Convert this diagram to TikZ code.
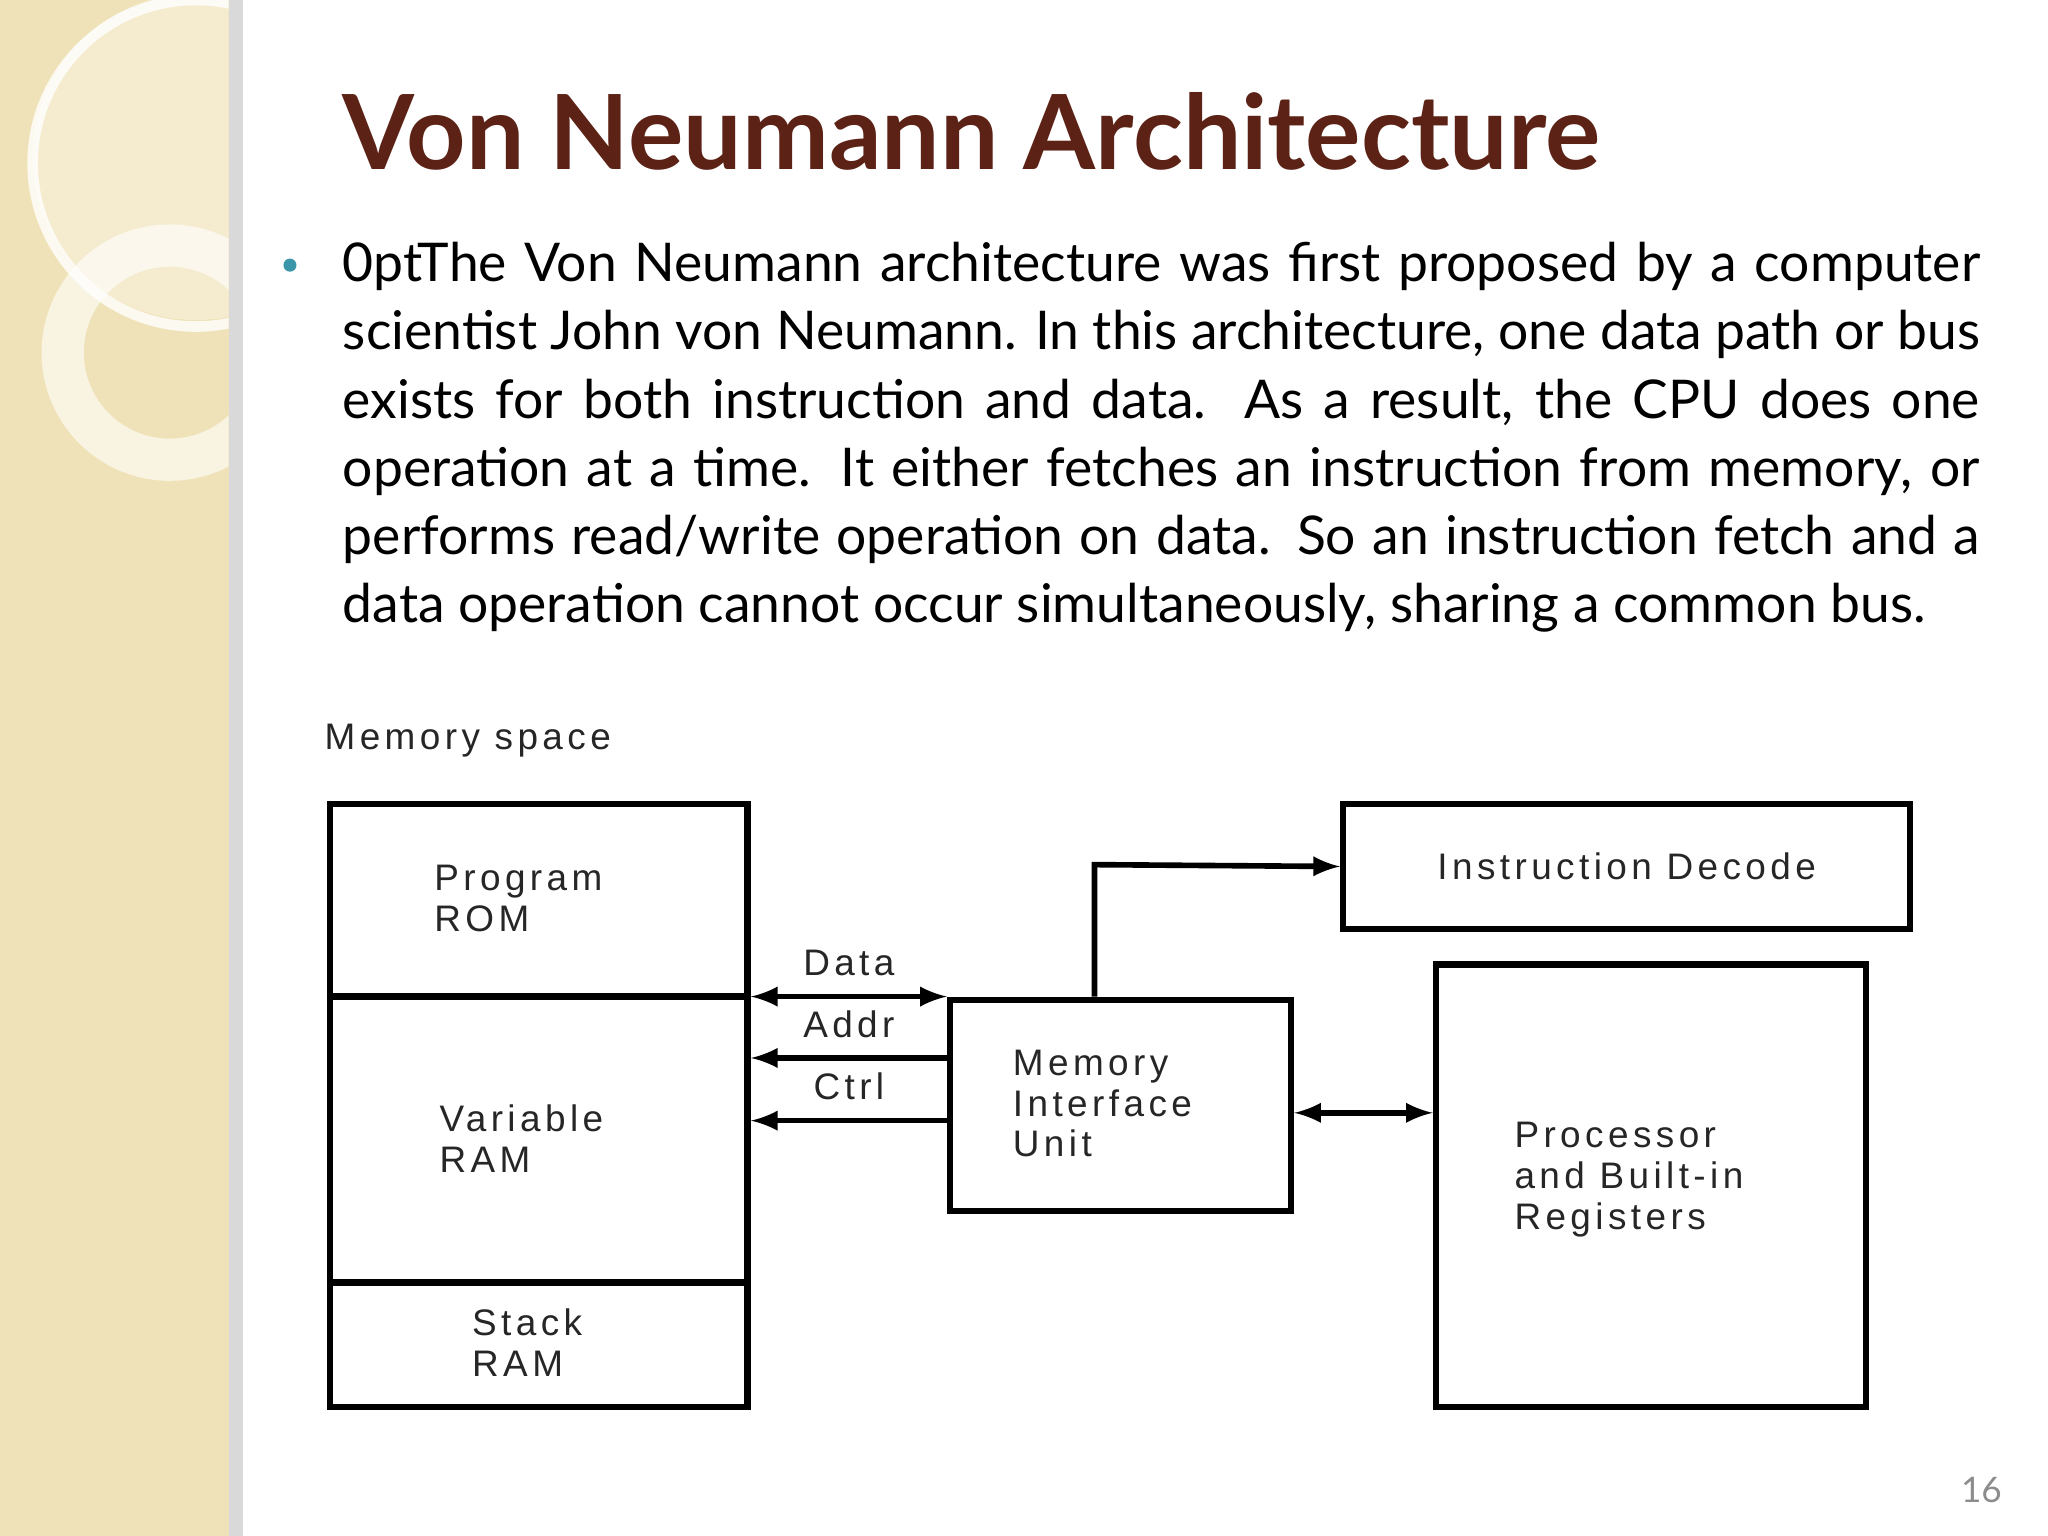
\documentclass[tikz,border=0pt]{standalone}
\usepackage{fontspec}
\setmainfont{Lato}
\newfontfamily\diag[LetterSpace=12]{Liberation Sans}
\definecolor{strip}{RGB}{240,226,184}
\definecolor{titlec}{RGB}{92,34,22}
\definecolor{teal}{RGB}{60,150,170}
\begin{document}
\begin{tikzpicture}[x=0.013061cm,y=-0.013061cm,
  box/.style={draw,line width=1.8pt},
  lab/.style={font=\diag\fontsize{10.5}{11.6}\selectfont,text=black!85,align=left,inner sep=0pt},
  arr/.style={line width=1.6pt,-latex}]
\useasboundingbox (0,0) rectangle (1568,1176);
\fill[white] (0,0) rectangle (1568,1176);
\fill[strip] (0,0) rectangle (175,1176);
\fill[black!15] (175,0) rectangle (186,1176);
\begin{scope}
\clip (0,0) rectangle (175,1176);
\fill[white,opacity=0.35] (150,120) circle (125);
\draw[white,line width=3pt,opacity=0.8] (150,125) circle (125);
\draw[white,line width=12pt,opacity=0.6] (130,270) circle (82);
\end{scope}
\node[anchor=base west,inner sep=0,text=titlec,font=\bfseries\fontsize{29.5}{35}\selectfont] at (262,130) {Von Neumann Architecture};
\fill[teal] (222,203) circle (5);
\node[anchor=north west,inner sep=0,text width=16.37cm,align=justify,font=\fontsize{15.2}{19.4}\selectfont\hyphenpenalty=10000\frenchspacing] (body) at (262,185)
 {The Von Neumann architecture was first proposed by a computer scientist John von Neumann. In this architecture, one data path or bus exists for both instruction and data. As a result, the CPU does one operation at a time. It either fetches an instruction from memory, or performs read/write operation on data. So an instruction fetch and a data operation cannot occur simultaneously, sharing a common bus.};
% diagram
\node[lab,anchor=west] (ms) at (248,567) {Memory space};
\node[box,anchor=north west,minimum width=320*0.013061cm,minimum height=462*0.013061cm] (mem) at (250,613) {};
\draw[box] (250,763) -- (570,763);
\draw[box] (250,982) -- (570,982);
\node[lab,anchor=west] at (332,688) {Program\\ROM};
\node[lab,anchor=west] at (336,872) {Variable\\RAM};
\node[lab,anchor=west] at (361,1028) {Stack\\RAM};
\node[box,anchor=north west,minimum width=434*0.013061cm,minimum height=96*0.013061cm] (id) at (1026,613) {};
\node[lab] at (id.center) {Instruction Decode};
\node[box,anchor=north west,minimum width=261*0.013061cm,minimum height=162*0.013061cm] (miu) at (725,763) {};
\node[lab,anchor=west] at (775,845) {Memory\\Interface\\Unit};
\node[box,anchor=north west,minimum width=329*0.013061cm,minimum height=339*0.013061cm] (pr) at (1097,736) {};
\node[lab,anchor=west] at (1159,903) {Processor\\and Built-in\\Registers};
\draw[arr,latex-latex] (mem.east |- 0,763) -- (miu.north west) node[lab,midway,above=5pt] {Data};
\draw[arr] (miu.west |- 0,810) -- (mem.east |- 0,810) node[lab,midway,above=5pt] {Addr};
\draw[arr] (miu.west |- 0,858) -- (mem.east |- 0,858) node[lab,midway,above=5pt] {Ctrl};
\draw[arr] (miu.north -| 838,0) -- (838,662) -- (id.west);
\draw[arr,latex-latex] (miu.east |- 0,852) -- (pr.west |- 0,852);
\node[text=black!45,font=\fontsize{10}{12}\selectfont] at (1517,1141) {16};
\end{tikzpicture}
\end{document}
